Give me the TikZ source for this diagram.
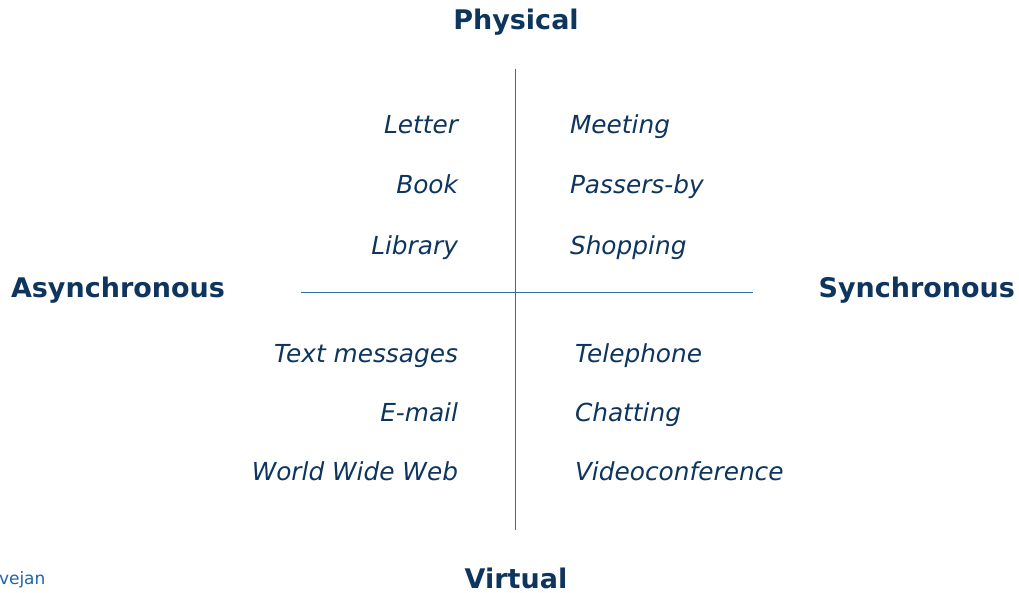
\documentclass[tikz,border=0pt]{standalone}
\usepackage{fontspec}
\setmainfont{DejaVu Sans}
\definecolor{navy}{RGB}{14,53,94}
\definecolor{axisblue}{RGB}{46,110,170}
\definecolor{credit}{RGB}{30,100,170}
\begin{document}
\begin{tikzpicture}[x=1pt,y=-1pt,
  every node/.style={inner sep=0pt,outer sep=0pt},
  axislabel/.style={text=navy,font=\fontsize{27}{31}\selectfont\bfseries},
  leftitem/.style={text=navy,anchor=base east,font=\fontsize{24.8}{28}\selectfont\itshape},
  rightitem/.style={text=navy,anchor=base west,font=\fontsize{24.8}{28}\selectfont\itshape},
  axisline/.style={draw=axisblue,line width=1.2pt}]
\useasboundingbox (0,0) rectangle (1019,593);

% axis end points
\coordinate (top) at (515.5,69);
\coordinate (bottom) at (515.5,530);
\coordinate (west) at (301,292.5);
\coordinate (east) at (753,292.5);
\draw[axisline] (top) -- (bottom);
\draw[axisline] (west) -- (east);

% axis labels
\node[axislabel,anchor=base] (physical) at (516,30) {Physical};
\node[axislabel,anchor=base] (virtual) at (516,588) {Virtual};
\node[axislabel,anchor=base west] (async) at (11,298) {Asynchronous};
\node[axislabel,anchor=base east] (sync) at (1015,298) {Synchronous};

% upper quadrants
\node[leftitem] (letter) at (458,134) {Letter};
\node[leftitem] (book) at (458,194) {Book};
\node[leftitem] (library) at (458,255) {Library};
\node[rightitem] (meeting) at (570,134) {Meeting};
\node[rightitem] (passers) at (570,194) {Passers-by};
\node[rightitem] (shopping) at (570,255) {Shopping};

% lower quadrants
\node[leftitem] (text) at (458,362) {Text messages};
\node[leftitem] (email) at (458,421) {E-mail};
\node[leftitem] (www) at (458,480) {World Wide Web};
\node[rightitem] (phone) at (575,362) {Telephone};
\node[rightitem] (chat) at (575,421) {Chatting};
\node[rightitem] (video) at (575,480) {Videoconference};

% credit line
\node[anchor=base west,text=credit,font=\fontsize{17}{20}\selectfont] (credit) at (-1,584) {vejan};
\end{tikzpicture}
\end{document}
